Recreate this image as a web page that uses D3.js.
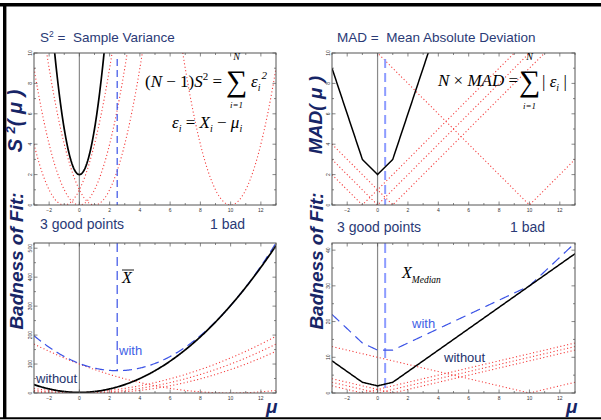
<!DOCTYPE html>
<html>
<head>
<meta charset="utf-8">
<script src="https://cdn.jsdelivr.net/npm/d3@7"></script>
<style>
  body { margin: 0; background: #fff; }
  svg { display: block; }
</style>
</head>
<body>
<svg id="chart" width="601" height="420"></svg>
<script>
// data points: three good ones and one bad one
const goodPoints = [-1, 0, 1]
const badPoints = [10]
const allPoints = goodPoints.concat(badPoints)

const muDomain = [-3, 13]
const xTicks = [-2, 0, 2, 4, 6, 8, 10, 12]
const yTicksTop = [0, 2, 4, 6, 8, 10]
const yTicksSq = [0, 100, 200, 300, 400, 500]
const yTicksAbs = [0, 10, 20, 30, 40]

const meanX = d3.mean(allPoints)
const medianX = d3.median(allPoints)

// sample positions for mu (hundredths, so the kinks at the points are hit exactly)
const mus = d3.range(-300, 1301, 5).map((v) => v / 100)

const sq = (m, x) => (m - x) * (m - x)
const ab = (m, x) => Math.abs(m - x)
const total = (f, pts) => (m) => d3.sum(pts, (x) => f(m, x))

const navy = "#23326c"
const red = "#f43a3a"
const blue = "#3a52e6"
const lightBlue = "#8d9cff"

const svg = d3.select("#chart")

let clipId = 0

/**
 * Framed plot with inward ticks on all four sides
 */
function panel({ left, right, top, bottom, yDomain, yTicks, yMinor }) {
  const x = d3.scaleLinear().domain(muDomain).range([left, right])
  const y = d3.scaleLinear().domain(yDomain).range([bottom, top])
  const g = svg.append("g")

  const id = "clip" + clipId++
  g.append("clipPath")
    .attr("id", id)
    .append("rect")
    .attr("x", left)
    .attr("y", top)
    .attr("width", right - left)
    .attr("height", bottom - top)
  const plot = g.append("g").attr("clip-path", `url(#${id})`)

  const xMinor = d3.range(-3, 14, 1).filter((v) => !xTicks.includes(v))
  const ticks = g.append("g").attr("stroke", "#555").attr("stroke-width", 0.7)
  xTicks.forEach((t) => {
    ticks.append("line").attr("x1", x(t)).attr("x2", x(t)).attr("y1", bottom).attr("y2", bottom - 3.5)
    ticks.append("line").attr("x1", x(t)).attr("x2", x(t)).attr("y1", top).attr("y2", top + 3.5)
  })
  xMinor.forEach((t) => {
    ticks.append("line").attr("x1", x(t)).attr("x2", x(t)).attr("y1", bottom).attr("y2", bottom - 2)
    ticks.append("line").attr("x1", x(t)).attr("x2", x(t)).attr("y1", top).attr("y2", top + 2)
  })
  yTicks.forEach((t) => {
    ticks.append("line").attr("x1", left).attr("x2", left + 3.5).attr("y1", y(t)).attr("y2", y(t))
    ticks.append("line").attr("x1", right).attr("x2", right - 3.5).attr("y1", y(t)).attr("y2", y(t))
  })
  yMinor.forEach((t) => {
    ticks.append("line").attr("x1", left).attr("x2", left + 2).attr("y1", y(t)).attr("y2", y(t))
    ticks.append("line").attr("x1", right).attr("x2", right - 2).attr("y1", y(t)).attr("y2", y(t))
  })

  g.append("rect")
    .attr("x", left)
    .attr("y", top)
    .attr("width", right - left)
    .attr("height", bottom - top)
    .attr("fill", "none")
    .attr("stroke", "#555")
    .attr("stroke-width", 1)

  const labels = g.append("g")
    .attr("font-family", "Liberation Sans, Arial, sans-serif")
    .attr("font-size", 5)
    .attr("fill", "#333")
  labels.selectAll(".xt")
    .data(xTicks)
    .join("text")
    .attr("x", (d) => x(d))
    .attr("y", bottom + 6.5)
    .attr("text-anchor", "middle")
    .text((d) => (d < 0 ? "\u2212" + -d : d))
  labels.selectAll(".yt")
    .data(yTicks)
    .join("text")
    .attr("transform", (d) => `translate(${left - 2.5},${y(d)}) rotate(-90)`)
    .attr("text-anchor", "middle")
    .text((d) => d)

  return { x, y, plot }
}

function curve(p, fn) {
  return d3.line()
    .x((m) => p.x(m))
    .y((m) => p.y(fn(m)))(mus)
}

function drawTerms(p, f) {
  allPoints.forEach((xi) => {
    p.plot.append("path")
      .attr("d", curve(p, (m) => f(m, xi)))
      .attr("fill", "none")
      .attr("stroke", red)
      .attr("stroke-width", 1.1)
      .attr("stroke-dasharray", "1.1 2.4")
  })
}

function zeroLine(p, domain) {
  p.plot.append("line")
    .attr("x1", p.x(0)).attr("x2", p.x(0))
    .attr("y1", p.y(domain[0])).attr("y2", p.y(domain[1]))
    .attr("stroke", "#8a8a8a")
    .attr("stroke-width", 1.2)
}

function vDash(p, at, from, to, color, width, dash) {
  p.plot.append("line")
    .attr("x1", p.x(at)).attr("x2", p.x(at))
    .attr("y1", p.y(from)).attr("y2", p.y(to))
    .attr("stroke", color)
    .attr("stroke-width", width)
    .attr("stroke-dasharray", dash)
}

function solid(p, fn, color, width, dash) {
  p.plot.append("path")
    .attr("d", curve(p, fn))
    .attr("fill", "none")
    .attr("stroke", color)
    .attr("stroke-width", width)
    .attr("stroke-dasharray", dash || null)
}

// ---- panels ----
const tl = panel({ left: 34, right: 276, top: 53, bottom: 205, yDomain: [0, 10], yTicks: yTicksTop, yMinor: [1, 3, 5, 7, 9] })
zeroLine(tl, [0, 10])
drawTerms(tl, sq)
vDash(tl, meanX, 9.6, 0, blue, 1.2, "7 4")
solid(tl, total(sq, goodPoints), "#000", 1.7)

const bl = panel({ left: 34, right: 276, top: 243, bottom: 393, yDomain: [0, 518], yTicks: yTicksSq, yMinor: [50, 150, 250, 350, 450] })
zeroLine(bl, [0, 518])
drawTerms(bl, sq)
vDash(bl, meanX, 518, total(sq, allPoints)(meanX), blue, 1.2, "9 5")
solid(bl, total(sq, allPoints), blue, 1.2, "9 5")
solid(bl, total(sq, goodPoints), "#000", 1.7)

const tr = panel({ left: 332, right: 575, top: 53, bottom: 205, yDomain: [0, 10], yTicks: yTicksTop, yMinor: [1, 3, 5, 7, 9] })
zeroLine(tr, [0, 10])
drawTerms(tr, ab)
vDash(tr, medianX, 9.6, 0, lightBlue, 2, "9 5")
solid(tr, total(ab, goodPoints), "#000", 1.5)

const br = panel({ left: 332, right: 575, top: 243, bottom: 393, yDomain: [0, 42], yTicks: yTicksAbs, yMinor: [5, 15, 25, 35] })
zeroLine(br, [0, 42])
drawTerms(br, ab)
vDash(br, medianX, 42, 0, lightBlue, 2, "10 5")
solid(br, total(ab, allPoints), blue, 1.2, "10 6")
solid(br, total(ab, goodPoints), "#000", 1.5)

// ---- frame ----
svg.append("line").attr("x1", 0).attr("x2", 601).attr("y1", 4.7).attr("y2", 4.7).attr("stroke", "#000").attr("stroke-width", 3.4)
svg.append("line").attr("x1", 4.7).attr("x2", 4.7).attr("y1", 3).attr("y2", 419).attr("stroke", "#000").attr("stroke-width", 3.4)
svg.append("line").attr("x1", 0).attr("x2", 601).attr("y1", 418.3).attr("y2", 418.3).attr("stroke", "#000").attr("stroke-width", 2)

// ---- text ----
const sans = "Liberation Sans, Arial, Helvetica, sans-serif"
const serif = "Liberation Serif, Times New Roman, serif"

function title(x, y, first, sup, rest) {
  const t = svg.append("text")
    .attr("x", x).attr("y", y)
    .attr("font-family", sans).attr("font-size", 13.5).attr("fill", "#2a3a76")
  t.append("tspan").text(first)
  if (sup) t.append("tspan").attr("font-size", 8.5).attr("dy", -5.5).text(sup)
  t.append("tspan").attr("dy", sup ? 5.5 : 0).text(rest)
}
title(40, 42, "S", "2", "\u00a0=\u00a0\u00a0Sample Variance")
title(337, 42, "MAD =\u00a0\u00a0Mean Absolute Deviation", null, "")

function yLabel(x, y, build, size) {
  const t = svg.append("text")
    .attr("transform", `translate(${x},${y}) rotate(-90)`)
    .attr("text-anchor", "middle")
    .attr("font-family", sans).attr("font-size", size)
    .attr("font-weight", "bold").attr("font-style", "italic")
    .attr("fill", "#172566")
  build(t)
}
yLabel(22, 121, (t) => {
  t.append("tspan").text("S ")
  t.append("tspan").attr("font-size", 13).attr("dy", -7).text("2")
  t.append("tspan").attr("dy", 7).text("( \u03bc )")
}, 20)
yLabel(322, 115, (t) => t.text("MAD( \u03bc )"), 19)
yLabel(23, 261, (t) => t.text("Badness of Fit:"), 19)
yLabel(323, 261, (t) => t.text("Badness of Fit:"), 19)

const plain = (x, y, s, size, color, anchor) =>
  svg.append("text")
    .attr("x", x).attr("y", y)
    .attr("font-family", sans).attr("font-size", size)
    .attr("fill", color).attr("text-anchor", anchor || "start")
    .text(s)

plain(40, 229, "3 good points", 14, "#2a3a76")
plain(210, 229, "1 bad", 14, "#2a3a76")
plain(337, 232, "3 good points", 14, "#2a3a76")
plain(510, 232, "1 bad", 14, "#2a3a76")

plain(119, 355, "with", 13, "#3f5fe6")
plain(36, 383, "without", 13, navy)
plain(412, 328, "with", 13, "#3f5fe6")
plain(444, 362, "without", 13, navy)

// mu axis names
;[[266, 413], [566, 413]].forEach(([x, y]) => {
  svg.append("text")
    .attr("x", x).attr("y", y)
    .attr("font-family", sans).attr("font-size", 19)
    .attr("font-weight", "bold").attr("font-style", "italic")
    .attr("fill", "#172566")
    .text("\u03bc")
})

// formulas
const f1 = svg.append("text").attr("x", 145).attr("y", 87)
  .attr("font-family", serif).attr("font-size", 17).attr("fill", "#000")
f1.append("tspan").text("(")
f1.append("tspan").attr("font-style", "italic").text("N")
f1.append("tspan").text(" \u2212 1)")
f1.append("tspan").attr("font-style", "italic").text("S")
f1.append("tspan").attr("font-size", 11).attr("dy", -7).text("2")
f1.append("tspan").attr("dy", 7).text(" =")

svg.append("text").attr("x", 226).attr("y", 91)
  .attr("font-family", serif).attr("font-size", 30).text("\u2211")
svg.append("text").attr("x", 236.5).attr("y", 60).attr("text-anchor", "middle")
  .attr("font-family", serif).attr("font-style", "italic").attr("font-size", 10).text("N")
svg.append("text").attr("x", 236.5).attr("y", 107.5).attr("text-anchor", "middle")
  .attr("font-family", serif).attr("font-style", "italic").attr("font-size", 9).text("i=1")

const e1 = svg.append("text").attr("x", 251).attr("y", 87)
  .attr("font-family", serif).attr("font-size", 17).attr("font-style", "italic")
e1.append("tspan").text("\u03b5")
e1.append("tspan").attr("font-size", 10).attr("dy", 4).text("i")
e1.append("tspan").attr("font-size", 11).attr("dy", -12).attr("dx", 1).text("2")

const f2 = svg.append("text").attr("x", 172).attr("y", 128)
  .attr("font-family", serif).attr("font-size", 17).attr("font-style", "italic")
f2.append("tspan").text("\u03b5")
f2.append("tspan").attr("font-size", 10).attr("dy", 4).text("i")
f2.append("tspan").attr("dy", -4).attr("font-style", "normal").text(" = ")
f2.append("tspan").text("X")
f2.append("tspan").attr("font-size", 10).attr("dy", 4).text("i")
f2.append("tspan").attr("dy", -4).attr("font-style", "normal").text(" \u2212 ")
f2.append("tspan").text("\u03bc")
f2.append("tspan").attr("font-size", 10).attr("dy", 4).text("i")

const f3 = svg.append("text").attr("x", 438).attr("y", 86)
  .attr("font-family", serif).attr("font-size", 17)
f3.append("tspan").attr("font-style", "italic").text("N")
f3.append("tspan").text(" \u00d7 ")
f3.append("tspan").attr("font-style", "italic").text("MAD")
f3.append("tspan").text(" =")

svg.append("text").attr("x", 519).attr("y", 91)
  .attr("font-family", serif).attr("font-size", 30).text("\u2211")
svg.append("text").attr("x", 529.5).attr("y", 60).attr("text-anchor", "middle")
  .attr("font-family", serif).attr("font-style", "italic").attr("font-size", 10).text("N")
svg.append("text").attr("x", 529.5).attr("y", 109).attr("text-anchor", "middle")
  .attr("font-family", serif).attr("font-style", "italic").attr("font-size", 9).text("i=1")

const e3 = svg.append("text").attr("x", 542).attr("y", 87)
  .attr("font-family", serif).attr("font-size", 17)
e3.append("tspan").text("| ")
e3.append("tspan").attr("font-style", "italic").text("\u03b5")
e3.append("tspan").attr("font-style", "italic").attr("font-size", 10).attr("dy", 4).text("i")
e3.append("tspan").attr("dy", -4).text(" |")

// X-bar and X-median
svg.append("text").attr("x", 122).attr("y", 283)
  .attr("font-family", serif).attr("font-size", 16).attr("font-style", "italic").text("X")
svg.append("line").attr("x1", 122).attr("x2", 134).attr("y1", 270).attr("y2", 270)
  .attr("stroke", "#000").attr("stroke-width", 0.9)

const xm = svg.append("text").attr("x", 402).attr("y", 278)
  .attr("font-family", serif).attr("font-style", "italic").attr("font-size", 16)
xm.append("tspan").text("X")
xm.append("tspan").attr("font-size", 9.5).attr("dy", 5).text("Median")
</script>
</body>
</html>
